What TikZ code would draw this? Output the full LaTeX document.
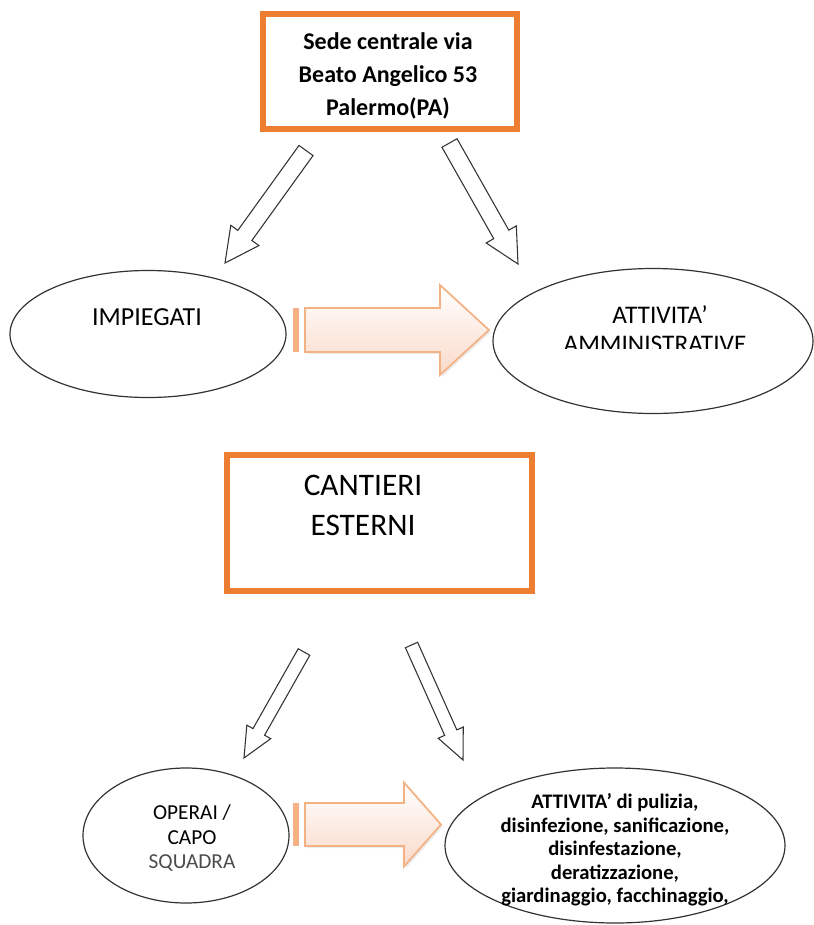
\documentclass[tikz,border=0pt]{standalone}
\usepackage{fontspec}
\setmainfont{Carlito}
\usetikzlibrary{shapes,calc,shadows}

\definecolor{boxorange}{HTML}{ED7D31}
\definecolor{arrorange}{HTML}{F4B183}
\definecolor{arrpeach}{HTML}{FADACA}

\begin{document}
\begin{tikzpicture}[x=0.75pt,y=-0.75pt]
	\tikzstyle{Place}	= [rectangle, draw=boxorange, line width=4.5pt, fill=white, inner sep=0pt]
	\tikzstyle{Role}	= [ellipse, draw=black!80, line width=0.9pt, inner sep=0pt]
	\tikzstyle{Hollow}	= [draw=black!80, line width=0.8pt, fill=white]
	\tikzstyle{Flow}	= [draw=arrorange, line width=1.3pt, top color=white, bottom color=arrpeach, drop shadow={opacity=0.15, shadow xshift=1.5pt, shadow yshift=-1.5pt}]
	\tikzstyle{Txt}		= [inner sep=0pt, align=center]

	\useasboundingbox (0,0) rectangle (814,925);

	% boxes
	\node (sede) at (390,71.5) [Place, minimum width=190.5pt, minimum height=86.25pt] {};
	\node (sedetxt) at (388,76) [Txt, font=\bfseries\fontsize{18}{24.75}\selectfont] {Sede centrale via\\Beato Angelico 53\\Palermo(PA)};
	\node (cant) at (379.5,523) [Place, minimum width=228.75pt, minimum height=102pt] {};
	\node (canttxt) at (363,505) [Txt, font=\fontsize{23.5}{30}\selectfont] {CANTIERI\\ESTERNI};

	% ellipses
	\node (imp) at (148,334) [Role, minimum width=207pt, minimum height=95.25pt] {};
	\node (amm) at (653,341) [Role, minimum width=240pt, minimum height=108.75pt] {};
	\node (ope) at (186,835.5) [Role, minimum width=154.5pt, minimum height=101.25pt] {};
	\node (pul) at (615,845.5) [Role, minimum width=255pt, minimum height=116.25pt] {};

	\node (imptxt) at (147,325) [Txt, anchor=base, font=\fontsize{19.5}{24}\selectfont] {IMPIEGATI};
	\node (atttxt) at (660,323) [Txt, anchor=base, font=\fontsize{19}{24}\selectfont] {ATTIVITA’};
	\begin{scope}
		\clip (540,300) rectangle (780,348);
		\node (ammtxt) at (655,352) [Txt, anchor=base, font=\fontsize{19}{24}\selectfont] {AMMINISTRATIVE};
	\end{scope}
	\node (opetxt) at (192,838) [Txt, font=\fontsize{16}{18.4}\selectfont] {OPERAI /\\CAPO\\\textcolor{black!70}{SQUADRA}};
	\node (pultxt) at (615,850) [Txt, font=\bfseries\fontsize{15.5}{17.6}\selectfont] {ATTIVITA’ di pulizia,\\disinfezione, sanificazione,\\disinfestazione,\\deratizzazione,\\giardinaggio, facchinaggio,};

	% hollow arrows
	\coordinate (ta) at (306,150.5);	\coordinate (pa) at (225,263);
	\coordinate (tb) at (449.5,143);	\coordinate (pb) at (518,264);
	\coordinate (tc) at (304,652);		\coordinate (pc) at (244,758);
	\coordinate (td) at (411.5,645);	\coordinate (pd) at (463,760);
	\foreach \t/\p/\w/\hw/\hl in {ta/pa/6.5/13/25.5, tb/pb/6.5/13/25.5, tc/pc/5/10.3/22.5, td/pd/5/10.3/22.5} {
		\coordinate (hb) at ($(\p)!\hl pt!(\t)$);
		\draw [Hollow] ($(\t)!\w pt!90:(\p)$) -- ($(hb)!\w pt!90:(\p)$) -- ($(hb)!\hw pt!90:(\p)$) -- (\p)
			-- ($(hb)!\hw pt!-90:(\p)$) -- ($(hb)!\w pt!-90:(\p)$) -- ($(\t)!\w pt!-90:(\p)$) -- cycle;
	}

	% orange arrows
	\foreach \cy/\bw/\hw/\hx/\tx in {330/22/45/440/489, 824.5/21.5/42/404/441} {
		\fill [arrorange] (293,\cy-\bw) rectangle (299,\cy+\bw);
		\draw [Flow] (305,\cy-\bw) -- (\hx,\cy-\bw) -- (\hx,\cy-\hw) -- (\tx,\cy) -- (\hx,\cy+\hw) -- (\hx,\cy+\bw) -- (305,\cy+\bw) -- cycle;
	}
\end{tikzpicture}
\end{document}
